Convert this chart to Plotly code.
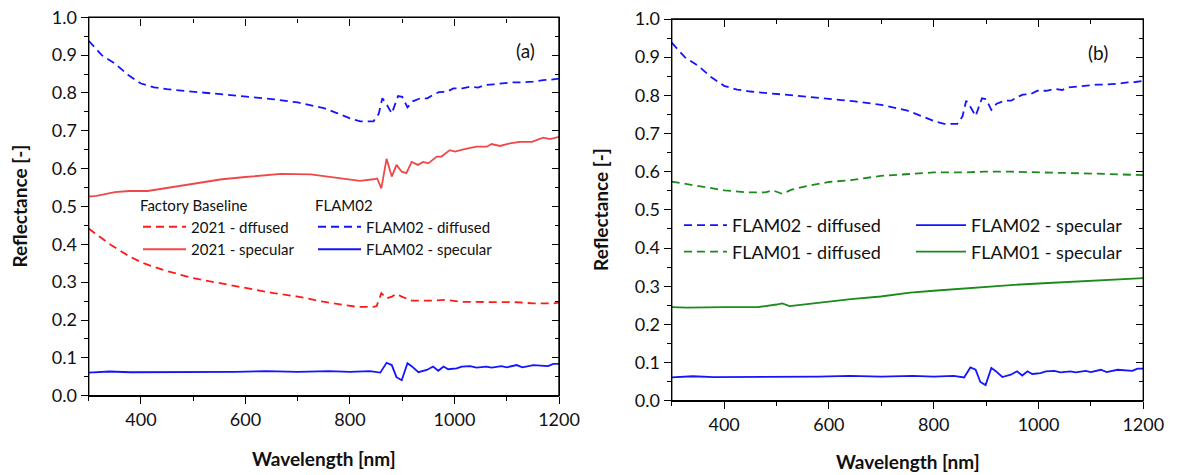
import plotly.graph_objects as go

# ---- Factory Baseline (2021) ----
wl_2021_diff = [300, 311, 342, 378, 403, 441, 498, 555, 600, 654, 700, 746, 787, 813, 845, 851,
                860, 870, 880, 889, 899, 918, 953, 982, 1017, 1056, 1087, 1119, 1150, 1189, 1200]
r_2021_diff = [0.442, 0.430, 0.399, 0.368, 0.351, 0.333, 0.311, 0.296, 0.284, 0.271, 0.262, 0.249,
               0.240, 0.235, 0.235, 0.237, 0.271, 0.257, 0.262, 0.269, 0.262, 0.251, 0.251, 0.253,
               0.248, 0.248, 0.248, 0.247, 0.244, 0.244, 0.246]

wl_2021_spec = [300, 315, 350, 378, 413, 450, 500, 555, 600, 668, 725, 753, 781, 800, 819, 845, 852,
                860, 870, 880, 889, 899, 908, 918, 930, 940, 950, 966, 975, 991, 1001, 1017, 1030,
                1042, 1062, 1071, 1087, 1106, 1125, 1148, 1170, 1183, 1200]
r_2021_spec = [0.526, 0.528, 0.538, 0.541, 0.541, 0.549, 0.561, 0.572, 0.578, 0.586, 0.585, 0.580,
               0.574, 0.570, 0.568, 0.572, 0.574, 0.548, 0.626, 0.579, 0.610, 0.592, 0.588, 0.618,
               0.610, 0.618, 0.614, 0.632, 0.632, 0.649, 0.645, 0.651, 0.654, 0.658, 0.658, 0.665,
               0.660, 0.667, 0.671, 0.671, 0.682, 0.678, 0.684]

# ---- FLAM02 ----
wl_f02_diff = [300, 325, 350, 375, 400, 425, 450, 500, 550, 600, 650, 700, 750, 775, 800, 820, 845,
               855, 862, 870, 880, 892, 900, 910, 920, 935, 948, 960, 970, 985, 998, 1015, 1030,
               1045, 1058, 1075, 1093, 1110, 1125, 1150, 1170, 1185, 1200]
r_f02_diff = [0.938, 0.900, 0.878, 0.848, 0.825, 0.815, 0.810, 0.804, 0.797, 0.791, 0.784, 0.775,
              0.760, 0.747, 0.733, 0.725, 0.725, 0.745, 0.786, 0.770, 0.746, 0.792, 0.790, 0.762,
              0.778, 0.786, 0.786, 0.796, 0.802, 0.803, 0.812, 0.812, 0.817, 0.814, 0.821, 0.823,
              0.826, 0.828, 0.828, 0.830, 0.834, 0.835, 0.838]

wl_f02_spec = [300, 340, 380, 420, 500, 580, 640, 700, 760, 800, 838, 858, 870, 880, 889, 899, 910,
               918, 931, 947, 959, 969, 979, 988, 1004, 1014, 1030, 1042, 1061, 1071, 1090, 1100,
               1119, 1130, 1151, 1179, 1189, 1200]
r_f02_spec = [0.061, 0.064, 0.062, 0.062, 0.063, 0.063, 0.065, 0.063, 0.065, 0.063, 0.065, 0.061,
              0.087, 0.081, 0.049, 0.041, 0.086, 0.078, 0.062, 0.068, 0.077, 0.066, 0.077, 0.070,
              0.072, 0.077, 0.078, 0.074, 0.077, 0.074, 0.078, 0.075, 0.081, 0.075, 0.081, 0.078,
              0.084, 0.084]

# ---- FLAM01 ----
wl_f01_diff = [300, 330, 365, 401, 443, 479, 493, 511, 529, 557, 600, 642, 699, 755, 800, 855, 897,
               947, 996, 1053, 1103, 1152, 1200]
r_f01_diff = [0.574, 0.567, 0.558, 0.551, 0.546, 0.546, 0.551, 0.542, 0.553, 0.562, 0.573, 0.578,
              0.589, 0.595, 0.598, 0.598, 0.600, 0.600, 0.599, 0.597, 0.595, 0.593, 0.591]

wl_f01_spec = [300, 330, 400, 464, 500, 511, 525, 557, 600, 642, 699, 755, 800, 855, 897, 947, 1000,
               1053, 1103, 1152, 1200]
r_f01_spec = [0.245, 0.244, 0.245, 0.245, 0.252, 0.255, 0.248, 0.253, 0.260, 0.266, 0.273, 0.283,
              0.288, 0.294, 0.299, 0.303, 0.307, 0.311, 0.314, 0.318, 0.321]

RED_D = "#ff1a1a"
RED_S = "#f04848"
BLUE = "#1414ff"
GREEN = "#1c8a1c"
DASH = "8px,5px"
LW = 1.8
FONT = "Lato"

W, H = 1177, 475
XDOM_A = [88.7 / W, 559 / W]
YDOM_A = [(H - 395.7) / H, (H - 17.3) / H]
XDOM_B = [671.7 / W, 1143.3 / W]
YDOM_B = [(H - 400.7) / H, (H - 19) / H]

fig = go.Figure()

# panel (a)
fig.add_trace(go.Scatter(x=wl_2021_diff, y=r_2021_diff, mode="lines", name="2021 - dffused",
                         line=dict(color=RED_D, width=LW, dash=DASH), xaxis="x", yaxis="y",
                         legend="legend"))
fig.add_trace(go.Scatter(x=wl_2021_spec, y=r_2021_spec, mode="lines", name="2021 - specular",
                         line=dict(color=RED_S, width=LW), xaxis="x3", yaxis="y3",
                         legend="legend"))
fig.add_trace(go.Scatter(x=wl_f02_diff, y=r_f02_diff, mode="lines", name="FLAM02 - diffused",
                         line=dict(color=BLUE, width=LW, dash=DASH), xaxis="x", yaxis="y",
                         legend="legend2"))
fig.add_trace(go.Scatter(x=wl_f02_spec, y=r_f02_spec, mode="lines", name="FLAM02 - specular",
                         line=dict(color=BLUE, width=LW), xaxis="x3", yaxis="y3",
                         legend="legend2"))

# panel (b)
fig.add_trace(go.Scatter(x=wl_f02_diff, y=r_f02_diff, mode="lines", name="FLAM02 - diffused",
                         line=dict(color=BLUE, width=LW, dash=DASH), xaxis="x2", yaxis="y2",
                         legend="legend3"))
fig.add_trace(go.Scatter(x=wl_f01_diff, y=r_f01_diff, mode="lines", name="FLAM01 - diffused",
                         line=dict(color=GREEN, width=LW, dash=DASH), xaxis="x2", yaxis="y2",
                         legend="legend3"))
fig.add_trace(go.Scatter(x=wl_f02_spec, y=r_f02_spec, mode="lines", name="FLAM02 - specular",
                         line=dict(color=BLUE, width=LW), xaxis="x4", yaxis="y4",
                         legend="legend4"))
fig.add_trace(go.Scatter(x=wl_f01_spec, y=r_f01_spec, mode="lines", name="FLAM01 - specular",
                         line=dict(color=GREEN, width=LW), xaxis="x4", yaxis="y4",
                         legend="legend4"))

tick_font = dict(family=FONT, size=18, color="#111111")
title_font = dict(family=FONT, size=19, color="#111111", weight="bold")
AXW = 1.4


def x_main(domain, anchor):
    return dict(domain=domain, anchor=anchor, range=[300, 1200], tick0=400, dtick=200,
                ticks="outside", ticklen=7, tickwidth=AXW, tickcolor="black",
                showline=True, linecolor="black", linewidth=AXW, showgrid=False,
                zeroline=False, tickfont=tick_font,
                minor=dict(tick0=300, dtick=100, ticks="outside", ticklen=4,
                           tickwidth=AXW, tickcolor="black", showgrid=False))


def y_main(domain, anchor):
    return dict(domain=domain, anchor=anchor, range=[0, 1.0], tick0=0, dtick=0.1,
                tickformat=".1f", ticks="outside", ticklen=7, tickwidth=AXW, tickcolor="black",
                showline=True, linecolor="black", linewidth=AXW, showgrid=False,
                zeroline=False, tickfont=tick_font,
                minor=dict(tick0=0, dtick=0.05, ticks="outside", ticklen=4, tickwidth=AXW,
                           tickcolor="black", showgrid=False))


def x_top(domain, pos):
    return dict(domain=domain, anchor="free", position=pos, side="top", range=[300, 1200],
                tick0=400, dtick=200, ticks="inside", ticklen=7, tickwidth=AXW,
                tickcolor="black", showline=True, linecolor="black", linewidth=AXW,
                showgrid=False, zeroline=False, showticklabels=False,
                minor=dict(tick0=300, dtick=100, ticks="inside", ticklen=4,
                           tickwidth=AXW, tickcolor="black", showgrid=False))


def y_right(domain, pos):
    return dict(domain=domain, anchor="free", position=pos, side="right", range=[0, 1.0],
                tick0=0, dtick=0.1, ticks="inside", ticklen=7, tickwidth=AXW, tickcolor="black",
                showline=True, linecolor="black", linewidth=AXW, showgrid=False, zeroline=False,
                showticklabels=False,
                minor=dict(tick0=0, dtick=0.05, ticks="inside", ticklen=4, tickwidth=AXW,
                           tickcolor="black", showgrid=False))


# box around each panel, in paper coordinates
frames = [dict(type="rect", xref="paper", yref="paper", x0=xd[0], x1=xd[1], y0=yd[0], y1=yd[1],
               line=dict(color="black", width=AXW), layer="above")
          for xd, yd in ((XDOM_A, YDOM_A), (XDOM_B, YDOM_B))]


def ann(text, x_px, y_px, size, angle=0, bold=False):
    f = dict(family=FONT, size=size, color="#111111")
    if bold:
        f["weight"] = "bold"
    return dict(text=text, x=x_px / W, y=(H - y_px) / H, xref="paper", yref="paper",
                xanchor="center", yanchor="middle", textangle=angle, showarrow=False, font=f)


leg_font_a = dict(family=FONT, size=15, color="#111111")
leg_font_b = dict(family=FONT, size=18, color="#111111")

fig.update_layout(
    width=W, height=H,
    margin=dict(l=0, r=0, t=0, b=0, autoexpand=False),
    paper_bgcolor="white", plot_bgcolor="rgba(0,0,0,0)",
    font=dict(family=FONT, color="#111111"),
    xaxis=x_main(XDOM_A, "y"),
    yaxis=y_main(YDOM_A, "x"),
    xaxis2=x_main(XDOM_B, "y2"),
    yaxis2=y_main(YDOM_B, "x2"),
    xaxis3=x_top(XDOM_A, YDOM_A[1]),
    yaxis3=y_right(YDOM_A, XDOM_A[1]),
    xaxis4=x_top(XDOM_B, YDOM_B[1]),
    yaxis4=y_right(YDOM_B, XDOM_B[1]),
    shapes=frames,
    legend=dict(x=138 / W, y=(H - 191) / H, xanchor="left", yanchor="top",
                bgcolor="rgba(0,0,0,0)", font=leg_font_a, itemwidth=43,
                title=dict(text="Factory Baseline", font=leg_font_a), tracegroupgap=0),
    legend2=dict(x=313 / W, y=(H - 191) / H, xanchor="left", yanchor="top",
                 bgcolor="rgba(0,0,0,0)", font=leg_font_a, itemwidth=43,
                 title=dict(text="FLAM02", font=leg_font_a), tracegroupgap=0),
    legend3=dict(x=679 / W, y=(H - 207) / H, xanchor="left", yanchor="top",
                 bgcolor="rgba(0,0,0,0)", font=leg_font_b, itemwidth=43, tracegroupgap=0),
    legend4=dict(x=911 / W, y=(H - 207) / H, xanchor="left", yanchor="top",
                 bgcolor="rgba(0,0,0,0)", font=leg_font_b, itemwidth=50, tracegroupgap=0),
    annotations=[
        ann("(a)", 525, 51, 19),
        ann("(b)", 1098, 53, 19),
        ann("Wavelength [nm]", 323.9, 458.5, 19, bold=True),
        ann("Wavelength [nm]", 907.5, 461.4, 19, bold=True),
        ann("Reflectance [-]", 19, 206.5, 19, angle=-90, bold=True),
        ann("Reflectance [-]", 601, 209.9, 19, angle=-90, bold=True),
    ],
)

fig.write_html("out.html")
